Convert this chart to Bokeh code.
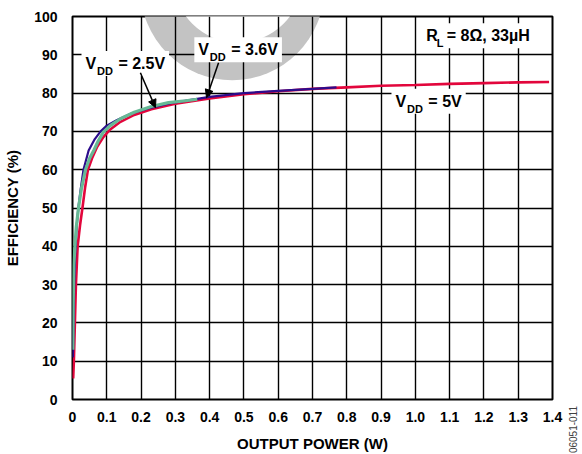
from bokeh.plotting import figure
from bokeh.layouts import row
from bokeh.models import Range1d, FixedTicker, PrintfTickFormatter, Label, Arrow, NormalHead, Div
from bokeh.embed import file_html
from bokeh.resources import INLINE

# ---------------- data ----------------
x_ticks = [0, 0.1, 0.2, 0.3, 0.4, 0.5, 0.6, 0.7, 0.8, 0.9, 1.0, 1.1, 1.2, 1.3, 1.4]
y_ticks = [0, 10, 20, 30, 40, 50, 60, 70, 80, 90, 100]

# VDD = 5V (red)
red_p = [0.002, 0.004, 0.007, 0.010, 0.015, 0.022, 0.029, 0.037, 0.045, 0.057, 0.072,
         0.09, 0.11, 0.14, 0.18, 0.23, 0.3, 0.4, 0.5, 0.6, 0.7, 0.8, 0.9, 1.0, 1.1,
         1.2, 1.3, 1.39]
red_e = [5.5, 10, 20, 30, 40, 45.5, 50, 55.5, 60, 63, 66,
         68.5, 70.5, 72.5, 74.3, 75.8, 77.2, 78.6, 79.7, 80.5, 81.1, 81.5, 81.9, 82.1, 82.4,
         82.6, 82.8, 82.9]

# VDD = 3.6V (blue)
blue_p = [0.001, 0.002, 0.003, 0.005, 0.008, 0.012, 0.017, 0.024, 0.032, 0.047, 0.065,
          0.082, 0.1, 0.13, 0.17, 0.22, 0.3, 0.4, 0.5, 0.6, 0.7, 0.77]
blue_e = [11, 15, 20, 30, 38, 45, 50, 55, 60, 65, 68,
          70, 71.5, 73, 74.6, 76, 77.6, 79, 80, 80.6, 81.1, 81.5]

# VDD = 2.5V (green)
green_p = [0.001, 0.002, 0.004, 0.007, 0.011, 0.0175, 0.026, 0.038, 0.05, 0.062, 0.075,
           0.09, 0.11, 0.14, 0.18, 0.23, 0.28, 0.33, 0.364]
green_e = [13, 25, 35, 40, 45, 50, 55, 60, 63, 65, 67.5,
           69.8, 71.5, 73.3, 75, 76.5, 77.5, 78, 78.4]

doc_code = "06051-011"

FONT = "Liberation Sans"

p = figure(width=563, height=454,
           x_range=Range1d(0, 1.4), y_range=Range1d(0, 100),
           min_border_left=72, min_border_right=11, min_border_top=16, min_border_bottom=55,
           output_backend="svg", toolbar_location=None)

p.background_fill_color = "white"
p.border_fill_color = "white"
p.outline_line_color = "black"
p.outline_line_width = 2

# watermark ring (decorative), under the grid
p.scatter(x=[0.466], y=[107.4], size=184, marker="circle",
          fill_color="#c3c3c3", line_color=None, level="image")
p.scatter(x=[0.4825], y=[110.0], size=129, marker="circle",
          fill_color="white", line_color=None, level="image")

# axes
p.xaxis.ticker = FixedTicker(ticks=x_ticks)
p.yaxis.ticker = FixedTicker(ticks=y_ticks)
p.xaxis.formatter = PrintfTickFormatter(format="%.1f")
p.xaxis.major_label_overrides = {0: "0"}
for ax in (p.xaxis, p.yaxis):
    ax.axis_line_color = None
    ax.major_tick_line_color = None
    ax.minor_tick_line_color = None
    ax.major_label_text_font = FONT
    ax.major_label_text_font_size = "14px"
    ax.major_label_text_font_style = "bold"
    ax.major_label_text_color = "black"
    ax.axis_label_text_font = FONT
    ax.axis_label_text_font_size = "15px"
    ax.axis_label_text_font_style = "bold"
    ax.axis_label_text_color = "black"
p.xaxis.axis_label = "OUTPUT POWER (W)"
p.yaxis.axis_label = "EFFICIENCY (%)"
p.xaxis.major_label_standoff = 6
p.yaxis.major_label_standoff = 9
p.xaxis.axis_label_standoff = 10
p.yaxis.axis_label_standoff = 10

for g in (p.xgrid, p.ygrid):
    g.grid_line_color = "black"
    g.grid_line_width = 1.4

# curves
p.line(red_p, red_e, line_color="#e2063c", line_width=2.6)
p.line(blue_p, blue_e, line_color="#2c0c8c", line_width=2.2)
p.line(green_p, green_e, line_color="#66b895", line_width=3.2)

PAD = 4


def sub_label(x, y, main, sub, sub_dx):
    p.add_layout(Label(x=x, y=y, x_offset=-PAD, y_offset=PAD, text=main,
                       text_font=FONT, text_font_size="16px",
                       text_font_style="bold", text_color="black",
                       text_baseline="alphabetic", background_fill_color="white",
                       padding=PAD))
    p.add_layout(Label(x=x, y=y, x_offset=sub_dx, y_offset=-3.5, text=sub,
                       text_font=FONT, text_font_size="11px", text_font_style="bold",
                       text_color="black", text_baseline="alphabetic"))


NB = "\u00a0"
sub_label(0.0379, 86.7, "V" + NB * 4 + " = 2.5V", "DD", 11.5)
sub_label(0.367, 90.3, "V" + NB * 4 + " = 3.6V", "DD", 11.5)
sub_label(0.942, 76.8, "V" + NB * 4 + " = 5V", "DD", 11.5)
sub_label(1.032, 93.9, "R" + NB + " = 8Ω, 33µH", "L", 10.5)

p.add_layout(Arrow(x_start=0.198, y_start=85.3, x_end=0.242, y_end=76.2, line_width=1.5,
                   line_color="black",
                   end=NormalHead(size=8, fill_color="black", line_color="black")))
p.add_layout(Arrow(x_start=0.426, y_start=87.9, x_end=0.391, y_end=78.8, line_width=1.5,
                   line_color="black",
                   end=NormalHead(size=8, fill_color="black", line_color="black")))

# narrow strip on the right for the rotated document code (reads bottom to top)
code_div = Div(
    text=('<div style="writing-mode: vertical-rl; transform: rotate(180deg); '
          'margin-top: 401px; margin-left: 0px; font-family: \'Liberation Sans\'; '
          'font-size: 10px; line-height: 12px; color: #404040; white-space: nowrap;">'
          + doc_code + '</div>'),
    width=19, height=454)

layout = row(p, code_div, spacing=0)
open("out.html", "w").write(file_html(layout, INLINE))
